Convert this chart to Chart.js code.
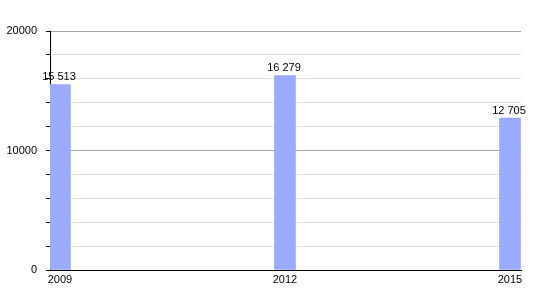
<!DOCTYPE html>
<html>
<head>
<meta charset="utf-8">
<script src="https://cdn.jsdelivr.net/npm/chart.js@4/dist/chart.umd.min.js"></script>
<style>
html,body{margin:0;padding:0;background:#fff;}
#wrap{width:550px;height:300px;}
</style>
</head>
<body>
<div id="wrap"><canvas id="c" width="550" height="300"></canvas></div>
<script>
const years = [2009, 2012, 2015];
const values = [15513, 16279, 12705];
const yTickLabels = [0, 10000, 20000];

function fmt(v){ return String(v).replace(/\B(?=(\d{3})+(?!\d))/g, ' '); }

const FONT = "'Liberation Sans', Arial, sans-serif";

const labelPlugin = {
  id: 'valueLabels',
  afterDatasetsDraw(chart){
    const ctx = chart.ctx;
    const meta = chart.getDatasetMeta(0);
    ctx.save();
    ctx.font = "11px " + FONT;
    ctx.fillStyle = '#000';
    ctx.textAlign = 'center';
    ctx.textBaseline = 'bottom';
    meta.data.forEach((bar, i) => {
      ctx.fillText(fmt(values[i]), bar.x - 1, bar.y - 2);
    });
    ctx.restore();
  }
};

new Chart(document.getElementById('c'), {
  type: 'bar',
  data: {
    datasets: [{
      data: years.map((y, i) => ({x: y, y: values[i]})),
      backgroundColor: '#99aaff',
      borderWidth: 0,
      barThickness: 21
    }]
  },
  options: {
    responsive: false,
    animation: false,
    layout: {padding: {left: 0, right: 29, top: 31, bottom: 0}},
    plugins: {legend: {display: false}, tooltip: {enabled: false}},
    scales: {
      x: {
        type: 'linear',
        offset: false,
        min: 2008.867,
        max: 2015.147,
        afterBuildTicks(scale){ scale.ticks = years.map(v => ({value: v})); },
        afterFit(scale){ scale.height = 30; },
        grid: {color: 'transparent', drawTicks: false, offset: false},
        border: {display: true, color: '#000', width: 1},
        ticks: {
          autoSkip: false,
          maxRotation: 0,
          padding: 3,
          color: '#000',
          font: {family: FONT, size: 11},
          callback: v => String(v)
        }
      },
      y: {
        min: 0,
        max: 20000,
        afterBuildTicks(scale){
          const t = [];
          for (let v = 0; v <= 20000; v += 2000) t.push({value: v});
          scale.ticks = t;
        },
        afterFit(scale){ scale.width = 50; },
        grid: {
          color: c => (c.tick && c.tick.value % 10000 === 0) ? '#a6a6a6' : '#e2e2e2',
          tickColor: '#000',
          tickLength: 4,
          drawTicks: true
        },
        border: {display: true, color: '#000', width: 1},
        ticks: {
          autoSkip: false,
          padding: 9,
          color: '#000',
          font: {family: FONT, size: 11},
          callback: v => yTickLabels.includes(v) ? String(v) : ''
        }
      }
    }
  },
  plugins: [labelPlugin]
});
</script>
</body>
</html>
